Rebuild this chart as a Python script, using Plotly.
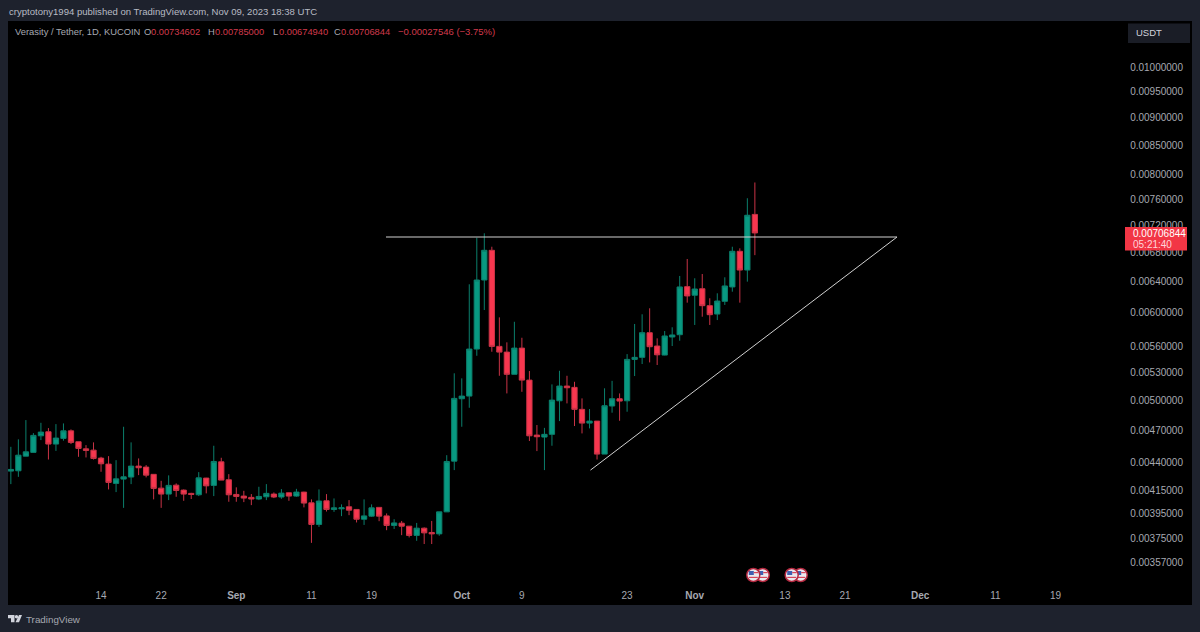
"""
VRA/USDT daily candles with ascending triangle, TradingView dark style
"""
import plotly.graph_objects as go
import pandas as pd

dates = pd.date_range("2023-08-02", periods=100, freq="D")

opens = [
    0.004309, 0.004312, 0.004445, 0.004480, 0.004637, 0.004676, 0.004558, 0.004612, 0.004685, 0.004580,
    0.004513, 0.004501, 0.004427, 0.004372, 0.004200, 0.004238, 0.004256, 0.004354, 0.004345, 0.004280,
    0.004159, 0.004108, 0.004185, 0.004142, 0.004114, 0.004102, 0.004247, 0.004183, 0.004393, 0.004232,
    0.004105, 0.004091, 0.004080, 0.004066, 0.004085, 0.004108, 0.004083, 0.004119, 0.004091, 0.004125,
    0.004034, 0.003857, 0.004051, 0.003979, 0.003984, 0.004001, 0.003979, 0.003899, 0.003924, 0.003996,
    0.003926, 0.003849, 0.003867, 0.003843, 0.003770, 0.003827, 0.003793, 0.003782, 0.003959, 0.004399,
    0.005008, 0.005036, 0.005553, 0.006410, 0.006818, 0.005584, 0.005518, 0.005269, 0.005564, 0.005206,
    0.004644, 0.004625, 0.004651, 0.004987, 0.005142, 0.005128, 0.004899, 0.004761, 0.004781, 0.004464,
    0.004933, 0.005008, 0.004987, 0.005435, 0.005458, 0.005745, 0.005588, 0.005484, 0.005694, 0.005721,
    0.006322, 0.006210, 0.006295, 0.006077, 0.005972, 0.006132, 0.006318, 0.006804, 0.006544, 0.00734602,
]
highs = [
    0.004532, 0.004603, 0.004791, 0.004663, 0.004764, 0.004712, 0.004751, 0.004758, 0.004699, 0.004580,
    0.004548, 0.004574, 0.004439, 0.004445, 0.004408, 0.004725, 0.004574, 0.004424, 0.004363, 0.004280,
    0.004223, 0.004271, 0.004200, 0.004148, 0.004119, 0.004300, 0.004249, 0.004542, 0.004430, 0.004282,
    0.004166, 0.004136, 0.004108, 0.004171, 0.004194, 0.004122, 0.004151, 0.004122, 0.004153, 0.004128,
    0.004063, 0.004148, 0.004108, 0.004071, 0.004021, 0.004057, 0.003979, 0.004063, 0.004021, 0.003996,
    0.003946, 0.003899, 0.003885, 0.003843, 0.003869, 0.003833, 0.003885, 0.003959, 0.004454, 0.005280,
    0.005225, 0.006353, 0.006999, 0.007063, 0.006869, 0.005931, 0.005631, 0.005877, 0.005685, 0.005305,
    0.004742, 0.004714, 0.005160, 0.005308, 0.005253, 0.005188, 0.005012, 0.004902, 0.004781, 0.005118,
    0.005198, 0.005064, 0.005495, 0.005850, 0.005969, 0.006044, 0.005678, 0.005765, 0.005810, 0.006464,
    0.006696, 0.006433, 0.006490, 0.006171, 0.006235, 0.006446, 0.006869, 0.006846, 0.007597, 0.00785,
]
lows = [
    0.004194, 0.004258, 0.004445, 0.004480, 0.004596, 0.004414, 0.004494, 0.004590, 0.004558, 0.004439,
    0.004433, 0.004414, 0.004303, 0.004148, 0.004125, 0.003992, 0.004194, 0.004273, 0.004253, 0.004063,
    0.003992, 0.004057, 0.004085, 0.004051, 0.004066, 0.004091, 0.004114, 0.004091, 0.004229, 0.004043,
    0.004043, 0.004040, 0.004015, 0.004057, 0.004057, 0.004074, 0.004068, 0.004051, 0.004085, 0.003996,
    0.003712, 0.003837, 0.003962, 0.003959, 0.003924, 0.003932, 0.003873, 0.003853, 0.003918, 0.003883,
    0.003811, 0.003821, 0.003772, 0.003754, 0.003728, 0.003703, 0.003703, 0.003767, 0.003959, 0.004318,
    0.004725, 0.004915, 0.005476, 0.006022, 0.005522, 0.005253, 0.005064, 0.005269, 0.005081, 0.004587,
    0.004492, 0.004318, 0.004542, 0.004781, 0.004960, 0.004732, 0.004660, 0.004709, 0.004414, 0.004464,
    0.004865, 0.004784, 0.004875, 0.005250, 0.005383, 0.005401, 0.005372, 0.005481, 0.005588, 0.005650,
    0.006115, 0.005838, 0.005939, 0.005838, 0.005898, 0.006086, 0.006256, 0.006115, 0.006388, 0.0067494,
]
closes = [
    0.004324, 0.004454, 0.004485, 0.004641, 0.004673, 0.004558, 0.004615, 0.004685, 0.004574, 0.004517,
    0.004498, 0.004424, 0.004375, 0.004209, 0.004240, 0.004258, 0.004354, 0.004339, 0.004273, 0.004157,
    0.004108, 0.004183, 0.004139, 0.004108, 0.004105, 0.004249, 0.004179, 0.004396, 0.004229, 0.004102,
    0.004088, 0.004074, 0.004066, 0.004088, 0.004114, 0.004083, 0.004116, 0.004091, 0.004125, 0.004032,
    0.003857, 0.004049, 0.003979, 0.003992, 0.003992, 0.003973, 0.003899, 0.003926, 0.003992, 0.003924,
    0.003849, 0.003869, 0.003843, 0.003770, 0.003827, 0.003790, 0.003782, 0.003959, 0.004396, 0.005012,
    0.005036, 0.005553, 0.006410, 0.006818, 0.005584, 0.005518, 0.005269, 0.005564, 0.005206, 0.004637,
    0.004628, 0.004651, 0.004994, 0.005142, 0.005124, 0.004899, 0.004761, 0.004781, 0.004464, 0.004936,
    0.005008, 0.004984, 0.005435, 0.005458, 0.005745, 0.005580, 0.005487, 0.005706, 0.005718, 0.006318,
    0.006201, 0.006291, 0.006077, 0.005964, 0.006136, 0.006331, 0.006804, 0.006544, 0.007333, 0.00706844,
]

resistance_dates = ["2023-09-20 22:00", "2023-11-27 22:00"]
resistance_prices = [0.007009, 0.007009]
support_dates = ["2023-10-18 03:00", "2023-11-27 22:00"]
support_prices = [0.004318, 0.007009]

price_ticks = [0.01, 0.0095, 0.009, 0.0085, 0.008, 0.0076, 0.0072, 0.0068, 0.0064, 0.006,
               0.0056, 0.0053, 0.005, 0.0047, 0.0044, 0.00415, 0.00395, 0.00375, 0.00357]
price_labels = [f"{p:.8f}" for p in price_ticks]

time_ticks = ["2023-08-14", "2023-08-22", "2023-09-01", "2023-09-11", "2023-09-19", "2023-10-01",
              "2023-10-09", "2023-10-23", "2023-11-01", "2023-11-13", "2023-11-21", "2023-12-01",
              "2023-12-11", "2023-12-19"]
time_labels = ["14", "22", "<b>Sep</b>", "11", "19", "<b>Oct</b>", "9", "23", "<b>Nov</b>",
               "13", "21", "<b>Dec</b>", "11", "19"]

FONT = "Liberation Sans"
FRAME = "#1e222d"
RED = "#f7374f"
GREEN = "#089981"
GREY = "#a6a9b1"
RED_TEXT = "#d23a4c"


# paper coordinates are relative to the pane, these take screen pixels
def px(x):
    return (x - 8) / 1184


def py(y):
    return (605 - y) / 584


def label(x, y, text, color=GREY, size=9.5, **kwargs):
    return dict(x=px(x), y=py(y), xref="paper", yref="paper", text=text, showarrow=False,
                xanchor="left", yanchor="middle", font=dict(family=FONT, size=size, color=color),
                borderpad=0, **kwargs)


def path_shape(points, color):
    path = "M " + " L ".join(f"{px(x)},{py(y)}" for x, y in points) + " Z"
    return dict(type="path", xref="paper", yref="paper", path=path,
                fillcolor=color, line=dict(width=0), layer="above")


def circle_shape(cx, cy, r, fill, line_color=None, line_width=0):
    return dict(type="circle", xref="paper", yref="paper", layer="above",
                x0=px(cx - r), x1=px(cx + r), y0=py(cy + r), y1=py(cy - r), fillcolor=fill,
                line=dict(color=line_color, width=line_width))


def rect_shape(x0, y0, x1, y1, fill, line_color=None, line_width=0):
    return dict(type="rect", xref="paper", yref="paper", layer="above",
                x0=px(x0), x1=px(x1), y0=py(y1), y1=py(y0), fillcolor=fill,
                line=dict(color=line_color, width=line_width))


fig = go.Figure()

fig.add_trace(go.Candlestick(
    x=dates,
    open=opens,
    high=highs,
    low=lows,
    close=closes,
    increasing=dict(line=dict(color="#0b7f6c", width=1), fillcolor=GREEN),
    decreasing=dict(line=dict(color="#c93346", width=1), fillcolor=RED),
    whiskerwidth=0,
))

fig.add_trace(go.Scatter(x=resistance_dates, y=resistance_prices, mode="lines",
                         line=dict(color="#d0d0d0", width=1)))
fig.add_trace(go.Scatter(x=support_dates, y=support_prices, mode="lines",
                         line=dict(color="#d0d0d0", width=1)))

annotations = [
    label(8, 11, "cryptotony1994 published on TradingView.com, Nov 09, 2023 18:38 UTC", "#b8bbc4", 9.55),
    label(14, 31.5, "Verasity / Tether, 1D, KUCOIN", GREY, 9.4),
    label(143, 31.5, "O", GREY, 9.4),
    label(150, 31.5, "0.00734602", RED_TEXT, 9.3),
    label(207, 31.5, "H", GREY, 9.4),
    label(214, 31.5, "0.00785000", RED_TEXT, 9.3),
    label(272, 31.5, "L", GREY, 9.4),
    label(277.5, 31.5, "0.00674940", RED_TEXT, 9.3),
    label(333, 31.5, "C", GREY, 9.4),
    label(340, 31.5, "0.00706844", RED_TEXT, 9.3),
    label(397, 31.5, "−0.00027546 (−3.75%)", RED_TEXT, 9.5),
    label(1135, 33, "USDT", "#d1d4dc", 9.5),
    label(1131.5, 233.5, "0.00706844", "#ffffff", 10),
    label(1131.5, 244, "05:21:40", "#ffd5da", 10),
    label(25, 619, "TradingView", GREY, 9.8),
]

shapes = [
    rect_shape(1128, 23.5, 1190, 43, "#1a1d26"),
    rect_shape(1125, 227, 1187, 250.5, "#f23645"),
    # TradingView logo
    path_shape([(8, 615), (14.5, 615), (14.5, 622.3), (11, 622.3), (11, 618.3), (8, 618.3)], "#d1d4dc"),
    circle_shape(16.5, 616.8, 1.7, "#d1d4dc"),
    path_shape([(19, 615), (22, 615), (19, 622.3), (15.5, 622.3)], "#d1d4dc"),
]

# economic event flags under the candles
for cx in [762.7, 753.3, 800.7, 791.7]:
    shapes.append(circle_shape(cx, 575, 6.5, "#e9e9ef", "#b4283f", 1.5))
    shapes.append(rect_shape(cx - 4.5, 571, cx + 0.5, 575, "#3f5fb0"))
    shapes.append(rect_shape(cx + 0.5, 572, cx + 5, 573.2, "#d9455a"))
    shapes.append(rect_shape(cx - 4.5, 576.8, cx + 4.5, 578, "#d9455a"))

fig.update_layout(
    width=1200,
    height=632,
    autosize=False,
    showlegend=False,
    paper_bgcolor=FRAME,
    plot_bgcolor="#000000",
    margin=dict(l=8, r=8, t=21, b=27, pad=0),
    boxgap=0.3,
    boxgroupgap=0,
    font=dict(family=FONT, size=10, color=GREY),
    annotations=annotations,
    shapes=shapes,
    xaxis=dict(
        type="date",
        range=["2023-08-01 14:53", "2024-01-06 04:00"],
        rangeslider=dict(visible=False),
        showgrid=False,
        zeroline=False,
        showline=False,
        tickmode="array",
        tickvals=time_ticks,
        ticktext=time_labels,
        ticks="inside",
        ticklen=3,
        tickcolor="#000000",
        ticklabelposition="inside",
        tickfont=dict(family=FONT, size=10, color=GREY),
    ),
    yaxis=dict(
        type="log",
        side="right",
        range=[-2.48647, -1.95939],
        showgrid=False,
        zeroline=False,
        showline=False,
        tickmode="array",
        tickvals=price_ticks,
        ticktext=price_labels,
        ticks="inside",
        ticklen=8,
        tickcolor="#000000",
        ticklabelposition="inside",
        ticklabelshift=1,
        tickfont=dict(family=FONT, size=10, color=GREY),
    ),
)

fig.write_html("out.html", config=dict(displayModeBar=False),
               post_script="document.body.style.margin='0';")
